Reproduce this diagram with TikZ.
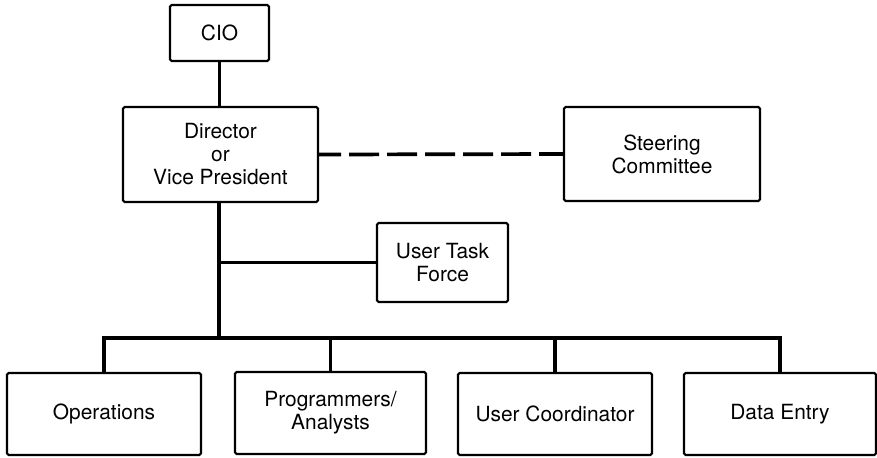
\documentclass[tikz,border=0pt]{standalone}
\usepackage{fontspec}
\setmainfont{TeX Gyre Heros}
\usetikzlibrary{calc}

\begin{document}
\begin{tikzpicture}[x=0.5pt, y=-0.5pt,
    box/.style={draw, line width=1.1pt, rounded corners=0.8pt, align=center,
      inner sep=0pt, font=\fontsize{10.45}{11.5}\selectfont},
    link/.style={line width=1.85pt}]
  \useasboundingbox (0,0) rectangle (877,457);
  \node[box, minimum width=49.5pt, minimum height=28pt] (cio) at (219.5,33) {CIO};
  \node[box, minimum width=97.5pt, minimum height=47.5pt] (dir) at (220.5,154.5) {Director\\or\\Vice President};
  \node[box, minimum width=98pt, minimum height=47pt] (steer) at (662,154) {Steering\\Committee};
  \node[box, minimum width=65.5pt, minimum height=39.5pt] (task) at (442.5,262.5) {User Task\\Force};
  \node[box, minimum width=97pt, minimum height=41pt] (ops) at (104,414) {Operations};
  \node[box, minimum width=95.5pt, minimum height=41pt] (prog) at (330.5,413) {Programmers/\\Analysts};
  \node[box, minimum width=97pt, minimum height=41pt] (coord) at (555,414) {User Coordinator};
  \node[box, minimum width=96pt, minimum height=41pt] (data) at (780,414) {Data Entry};
  \coordinate (bus) at (219,338);

  \draw[link] (cio) -- (cio |- dir.north);
  \draw[link, dash pattern=on 15pt off 4pt, dash phase=4pt] (dir.east) -- (steer.west);
  \draw[link] (bus |- dir.south) -- (bus);
  \draw[link] (bus |- task.west) -- (task.west);
  \draw[link] (ops.north) -- (ops.north |- bus) -- (data.north |- bus) -- (data.north);
  \foreach \n in {prog,coord}
    \draw[link] (\n.north |- bus) -- (\n.north);
\end{tikzpicture}
\end{document}
